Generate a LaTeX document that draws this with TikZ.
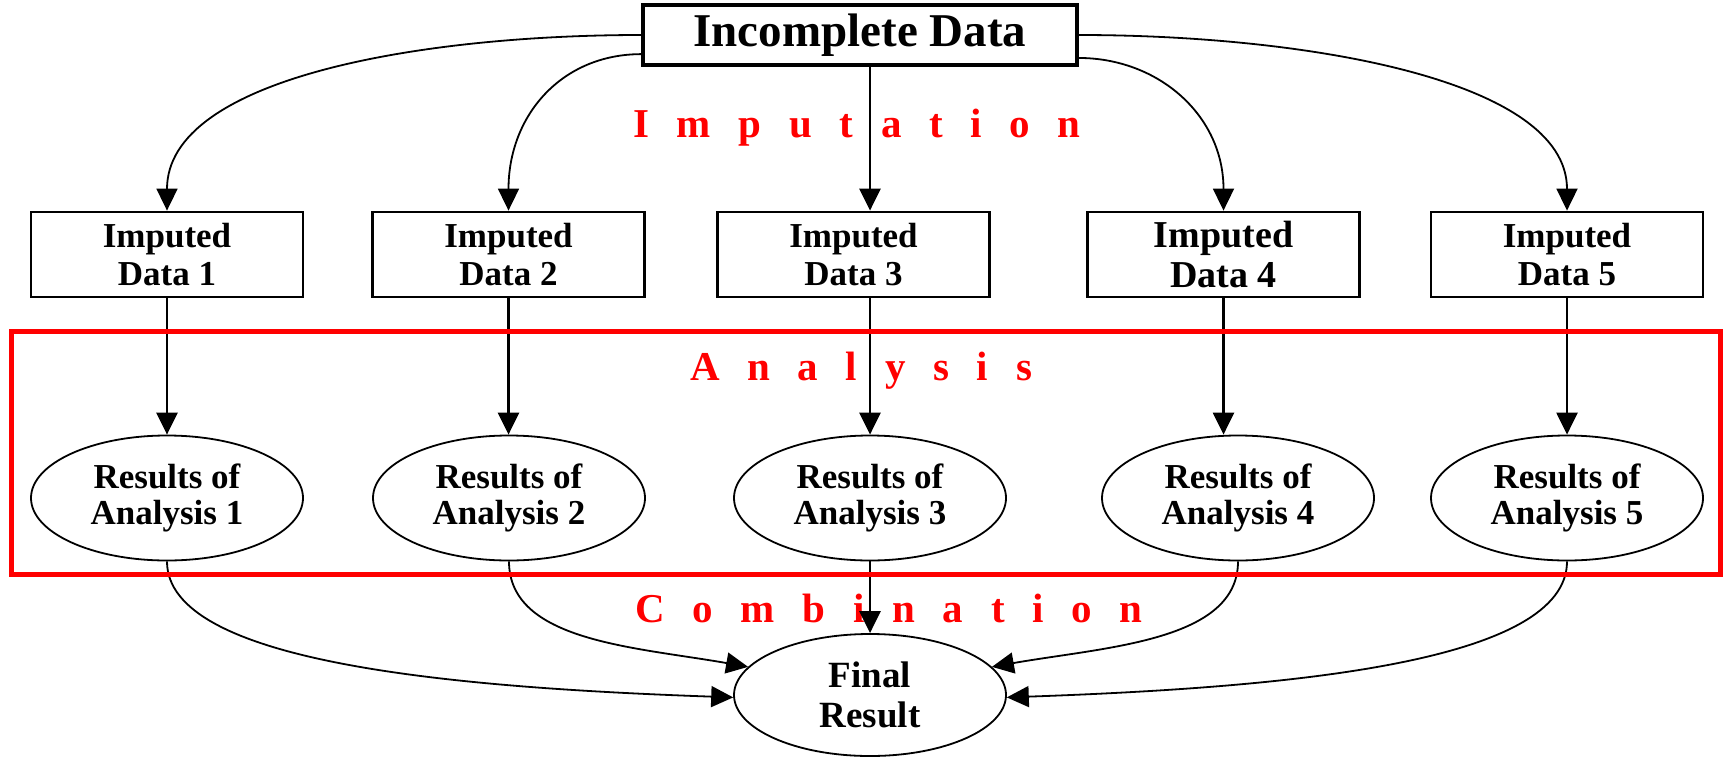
\documentclass[tikz,border=0pt]{standalone}
\usepackage{fontspec}
\setmainfont{Liberation Serif}
\usetikzlibrary{arrows.meta,shapes.geometric}
\newcommand\widespaced[1]{\spaceskip=27.7pt\relax #1}
\begin{document}
\begin{tikzpicture}[x=1pt,y=-1pt,
  topbox/.style={draw,line width=3.2pt,rectangle,inner sep=0pt,minimum width=434pt,minimum height=60pt,font=\bfseries\fontsize{47}{47}\selectfont},
  box/.style={draw,line width=2.8pt,rectangle,inner sep=0pt,minimum width=272pt,minimum height=85pt,align=center,font=\bfseries\fontsize{35}{38}\selectfont},
  res/.style={draw,line width=1.8pt,ellipse,inner sep=0pt,minimum width=272pt,minimum height=125pt,align=center,font=\bfseries\fontsize{35}{36}\selectfont},
  arr/.style={line width=1.8pt,-{Triangle[length=22pt,width=21pt]}},
  varr/.style={arr,line width=2.5pt},
  lab/.style={text=red,anchor=base,inner sep=0pt,font=\bfseries\fontsize{41}{41}\selectfont}
]
\useasboundingbox (0,0) rectangle (1723,757);

\node[topbox] (inc) at (860,35) {Incomplete Data};

\node[box] (imp1) at (167,254.5) {Imputed\\Data 1};
\node[box] (imp2) at (508.5,254.5) {Imputed\\Data 2};
\node[box] (imp3) at (853.5,254.5) {Imputed\\Data 3};
\node[box,font=\bfseries\fontsize{38}{40}\selectfont] (imp4) at (1223.5,254.5) {Imputed\\Data 4};
\node[box] (imp5) at (1567,254.5) {Imputed\\Data 5};

\node[res] (res1) at (167,498) {Results of\\Analysis 1};
\node[res] (res2) at (509,498) {Results of\\Analysis 2};
\node[res] (res3) at (870,498) {Results of\\Analysis 3};
\node[res] (res4) at (1238,498) {Results of\\Analysis 4};
\node[res] (res5) at (1567,498) {Results of\\Analysis 5};

\node[res,minimum height=122pt,font=\bfseries\fontsize{37}{40}\selectfont] (fin) at (870,695) {Final\\Result};

\node[lab] (limp) at (857,137) {\widespaced{I m p u t a t i o n}};
\node[lab] (lana) at (861,380) {\widespaced{A n a l y s i s}};
\node[lab] (lcom) at (889,622) {\widespaced{C o m b i n a t i o n}};

% imputation arrows
\draw[arr] (inc.west) to[out=180,in=90,out distance=223pt,in distance=132pt] (imp1.north);
\draw[arr] (inc.185.8) to[out=180,in=90,out distance=80pt,in distance=95pt] (imp2.north);
\draw[varr] (res3.north |- inc.south) -- (res3.north |- imp3.north);
\draw[arr] (inc.354.2) to[out=0,in=90,out distance=80pt,in distance=95pt] (imp4.north);
\draw[arr] (inc.east) to[out=0,in=90,out distance=223pt,in distance=132pt] (imp5.north);

% analysis arrows
\draw[varr] (imp1.south) -- (res1.north);
\draw[varr] (imp2.south) -- (imp2.south |- res2.north);
\draw[varr] (res3.north |- imp3.south) -- (res3.north);
\draw[varr] (imp4.south) -- (imp4.south |- res4.north);
\draw[varr] (imp5.south) -- (res5.north);

% combination arrows
\draw[arr] (res1.south) to[out=-90,in=178,out distance=100pt,in distance=290pt] (fin.181);
\draw[arr] (res2.south) to[out=-90,in=170,out distance=80pt,in distance=115pt] (fin.167);
\draw[varr] (res3.south) -- (fin.north);
\draw[arr] (res4.south) to[out=-90,in=10,out distance=80pt,in distance=115pt] (fin.13);
\draw[arr] (res5.south) to[out=-90,in=2,out distance=100pt,in distance=290pt] (fin.359);

% analysis frame
\draw[red,line width=5pt] (11,331) rectangle (1720,574);
\end{tikzpicture}
\end{document}
